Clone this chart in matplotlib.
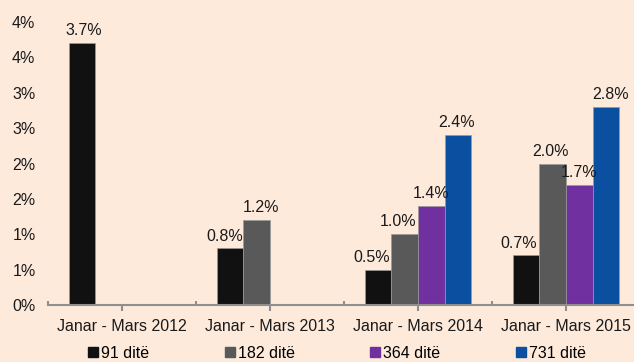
import math

import matplotlib
matplotlib.use("Agg")
import matplotlib.pyplot as plt
import numpy as np
from matplotlib.lines import Line2D
from matplotlib.ticker import FixedLocator, FuncFormatter

plt.rcParams["font.family"] = ["Liberation Sans", "DejaVu Sans"]

periods = ["Janar - Mars 2012", "Janar - Mars 2013", "Janar - Mars 2014", "Janar - Mars 2015"]
series_names = ["91 ditë", "182 ditë", "364 ditë", "731 ditë"]
d91 = [3.7, 0.8, 0.5, 0.7]
d182 = [np.nan, 1.2, 1.0, 2.0]
d364 = [np.nan, np.nan, 1.4, 1.7]
d731 = [np.nan, np.nan, 2.4, 2.8]

colors = ["#111111", "#595959", "#7030a0", "#0a4fa0"]
bg = "#fdeadb"
# horizontal nudges (px) so neighbouring value labels don't collide
label_dx = [
    [2, -5, -6, -7],
    [0, 4, -7, -2],
    [0, 0, 0, 0],
    [0, 0, -1, 5],
]

fig = plt.figure(figsize=(6.34, 3.62), dpi=100, facecolor=bg)
ax = fig.add_axes([48 / 634, 57 / 362, 586 / 634, 283 / 362], facecolor=bg)

x = np.arange(len(periods))
width = 0.18
offsets = (np.arange(4) - 1.5) * width
fs = 11.5

for i, (vals, name, col) in enumerate(zip([d91, d182, d364, d731], series_names, colors)):
    bars = ax.bar(x + offsets[i], vals, width, color=col, edgecolor="#9a9a9a",
                  linewidth=0.5, label=name)
    for j, (b, v) in enumerate(zip(bars, vals)):
        if np.isnan(v):
            continue
        ax.annotate(f"{v:.1f}%", (b.get_x() + b.get_width() / 2, v),
                    xytext=(label_dx[i][j] * 0.72, 3.5), textcoords="offset points",
                    ha="center", va="bottom", fontsize=fs, color="#1a1a1a",
                    annotation_clip=False)

ax.set_xlim(-0.5, -0.5 + 586 / 148)
ax.set_ylim(0, 4.0)

for side in ["top", "right", "left"]:
    ax.spines[side].set_visible(False)
ax.spines["bottom"].set_color("#8f8f8f")
ax.spines["bottom"].set_linewidth(1.5)

ax.set_yticks(np.arange(0, 4.01, 0.5))
ax.yaxis.set_major_formatter(FuncFormatter(lambda v, _: f"{math.floor(v + 0.5)}%"))
ax.tick_params(axis="y", length=0, pad=9, labelsize=fs, labelcolor="#1a1a1a")

ax.set_xticks(x)
ax.set_xticklabels(periods)
ax.xaxis.set_minor_locator(FixedLocator(np.arange(-0.5, 4, 1.0)))
ax.tick_params(axis="x", which="major", direction="out", length=4, width=1.5,
               color="#8f8f8f", pad=6, labelsize=fs, labelcolor="#1a1a1a")
ax.tick_params(axis="x", which="minor", direction="in", length=3, width=1.5,
               color="#8f8f8f")

handles = [Line2D([], [], marker="s", linestyle="none", markersize=6.5,
                  markerfacecolor=c, markeredgecolor=c) for c in colors]
fig.legend(handles, series_names, loc="center left", bbox_to_anchor=(88 / 634, 9 / 362),
           ncol=4, frameon=False, fontsize=fs, handlelength=0.6, handletextpad=0.2,
           columnspacing=4.75, borderpad=0, borderaxespad=0)

fig.savefig("out.png", dpi=100, facecolor=bg)
